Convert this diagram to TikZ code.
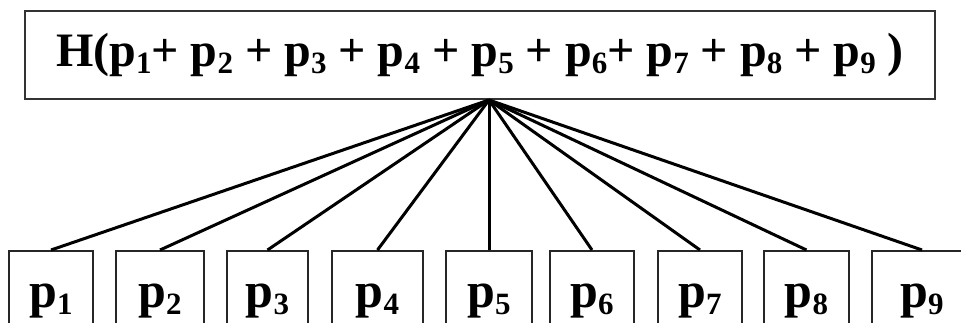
\documentclass[tikz,border=0pt]{standalone}
\usepackage{fontspec}
\setmainfont{Liberation Serif}
\newcommand{\sbs}[1]{\raisebox{-0.15em}{\fontsize{31}{31}\selectfont #1}}
\begin{document}
\begin{tikzpicture}[x=1pt,y=-1pt,
  topbox/.style={draw=black!80,line width=2pt,minimum width=910pt,minimum height=88pt,inner sep=0pt,font=\fontsize{48}{50}\selectfont\bfseries},
  pbox/.style={draw=black!85,line width=2pt,minimum height=76pt,inner sep=0pt,anchor=north,font=\fontsize{50}{52}\selectfont\bfseries,text height=42pt,text depth=6pt},
  conn/.style={line width=3pt,black}]
\useasboundingbox (0,0) rectangle (961,322);
\clip (0,0) rectangle (961,322);
\fill[white] (0,0) rectangle (961,322);
\node[topbox] (top) at (480,55) {H(p\sbs{1}+ p\sbs{2} + p\sbs{3} + p\sbs{4} + p\sbs{5} + p\sbs{6}+ p\sbs{7} + p\sbs{8} + p\sbs{9} )};
\node[pbox,minimum width=84pt] (b1) at (51,250) {p\sbs{1}};
\node[pbox,minimum width=88pt] (b2) at (160,250) {p\sbs{2}};
\node[pbox,minimum width=81pt] (b3) at (267.5,250) {p\sbs{3}};
\node[pbox,minimum width=91pt] (b4) at (377.5,250) {p\sbs{4}};
\node[pbox,minimum width=86pt] (b5) at (489,250) {p\sbs{5}};
\node[pbox,minimum width=84pt] (b6) at (592,250) {p\sbs{6}};
\node[pbox,minimum width=84pt] (b7) at (700,250) {p\sbs{7}};
\node[pbox,minimum width=85pt] (b8) at (806.5,250) {p\sbs{8}};
\node[pbox,minimum width=100pt] (b9) at (922,250) {p\sbs{9}};
\coordinate (apex) at (b5.north |- top.south);
\foreach \i in {1,...,9} \draw[conn] (apex) -- (b\i.north);
\end{tikzpicture}
\end{document}
